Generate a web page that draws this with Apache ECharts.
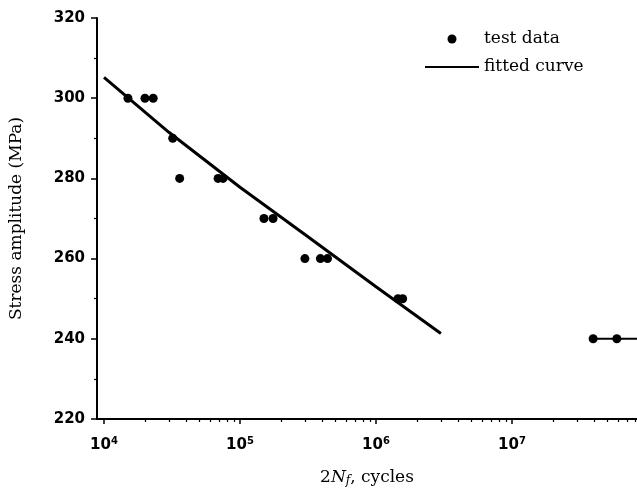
<!DOCTYPE html>
<html>
<head>
<meta charset="utf-8">
<script src="https://cdn.jsdelivr.net/npm/echarts@6/dist/echarts.min.js"></script>
<style>
  html, body { margin: 0; padding: 0; background: #fff; }
  #main { width: 637px; height: 492px; }
</style>
</head>
<body>
<div id="main"></div>
<script type="text/javascript">
// test points (2Nf, stress amplitude)
var testCycles = [1.5e4, 2.0e4, 2.3e4, 3.2e4, 3.6e4, 6.9e4, 7.5e4, 1.5e5, 1.75e5, 3.0e5, 3.9e5, 4.4e5, 1.45e6, 1.57e6, 3.95e7, 5.9e7];
var testStress = [300, 300, 300, 290, 280, 280, 280, 270, 270, 260, 260, 260, 250, 250, 240, 240];

// fitted curve
var fitCycles = [1e4, 3e4, 1e5, 3e5, 1e6, 3e6];
var fitStress = [305.2, 291.5, 277.8, 266.0, 253.0, 241.3];

// run-out line at 240 MPa
var runoutCycles = [3.95e7, 8.3e7];
var runoutStress = [240, 240];

var majorTicks = [1e4, 1e5, 1e6, 1e7];
var minorTicks = [2e4, 3e4, 4e4, 5e4, 6e4, 7e4, 8e4, 9e4,
                  2e5, 3e5, 4e5, 5e5, 6e5, 7e5, 8e5, 9e5,
                  2e6, 3e6, 4e6, 5e6, 6e6, 7e6, 8e6, 9e6,
                  2e7, 3e7, 4e7, 5e7, 6e7, 7e7, 8e7];

var xMin = Math.pow(10, 3.9485);
var xMax = Math.pow(10, 7.9191);

function pairs(xs, ys) {
    return xs.map(function (x, i) { return [x, ys[i]]; });
}

var tickFont = 'DejaVu Sans';
var nameFont = 'DejaVu Serif';

// plain thick line for the legend (bbox padded to 0..10 so it stays a line)
var lineIcon = 'path://M0,0L1,0L1,0.01Z M0,3.2L100,3.2L100,6.8L0,6.8Z M99,9.99L100,9.99L100,10Z';

var myChart = echarts.init(document.getElementById('main'));

var option = {
    backgroundColor: '#fff',
    animation: false,
    grid: { left: 97, right: 0, top: 18, bottom: 73, containLabel: false },
    legend: {
        orient: 'vertical',
        left: 425,
        top: 30,
        padding: 0,
        itemGap: 10,
        itemWidth: 54,
        itemHeight: 9,
        textStyle: { fontFamily: nameFont, fontSize: 17, color: '#000', lineHeight: 18 },
        data: [{ name: 'test data', icon: 'circle' }, { name: 'fitted curve', icon: lineIcon }]
    },
    xAxis: [{
        type: 'log',
        min: xMin,
        max: xMax,
        name: '2{it|N}{sub|f}, cycles',
        nameLocation: 'middle',
        nameGap: 49,
        nameTextStyle: {
            fontFamily: nameFont, fontSize: 17, color: '#000',
            rich: {
                it: { fontFamily: nameFont, fontSize: 17, fontStyle: 'italic', color: '#000' },
                sub: { fontFamily: nameFont, fontSize: 12, fontStyle: 'italic', color: '#000', padding: [7, 0, 0, 0] }
            }
        },
        axisLine: { lineStyle: { color: '#000', width: 2 } },
        axisTick: { customValues: majorTicks, length: 5, lineStyle: { color: '#000', width: 1.5 } },
        axisLabel: {
            customValues: majorTicks,
            margin: 17,
            color: '#000',
            fontFamily: tickFont,
            fontWeight: 'bold',
            fontSize: 15,
            formatter: function (v) {
                return '10{sup|' + Math.round(Math.log10(v)) + '}';
            },
            rich: {
                sup: { fontFamily: tickFont, fontWeight: 'bold', fontSize: 10, color: '#000', padding: [0, 0, 8, 0] }
            }
        },
        splitLine: { show: false }
    }, {
        type: 'log',
        min: xMin,
        max: xMax,
        position: 'bottom',
        axisLine: { show: false },
        axisTick: { customValues: minorTicks, length: 3, lineStyle: { color: '#000', width: 1.2 } },
        axisLabel: { show: false },
        splitLine: { show: false }
    }],
    yAxis: {
        type: 'value',
        min: 220,
        max: 320,
        interval: 20,
        name: 'Stress amplitude (MPa)',
        nameLocation: 'middle',
        nameGap: 72,
        nameTextStyle: { fontFamily: nameFont, fontSize: 17, color: '#000' },
        axisLine: { show: true, lineStyle: { color: '#000', width: 2 } },
        axisTick: { show: true, length: 6, lineStyle: { color: '#000', width: 1.5 } },
        minorTick: { show: true, splitNumber: 2, length: 3, lineStyle: { color: '#000', width: 1.2 } },
        axisLabel: { margin: 12, color: '#000', fontFamily: tickFont, fontWeight: 'bold', fontSize: 15 },
        splitLine: { show: false }
    },
    series: [{
        name: 'fitted curve',
        type: 'line',
        symbol: 'none',
        smooth: false,
        lineStyle: { color: '#000', width: 3 },
        itemStyle: { color: '#000' },
        data: pairs(fitCycles, fitStress),
        z: 3
    }, {
        name: 'runout',
        type: 'line',
        symbol: 'none',
        lineStyle: { color: '#000', width: 2 },
        data: pairs(runoutCycles, runoutStress),
        z: 3
    }, {
        name: 'test data',
        type: 'scatter',
        symbol: 'circle',
        symbolSize: 9,
        itemStyle: { color: '#000', opacity: 1 },
        data: pairs(testCycles, testStress),
        z: 4
    }]
};

myChart.setOption(option);
</script>
</body>
</html>
